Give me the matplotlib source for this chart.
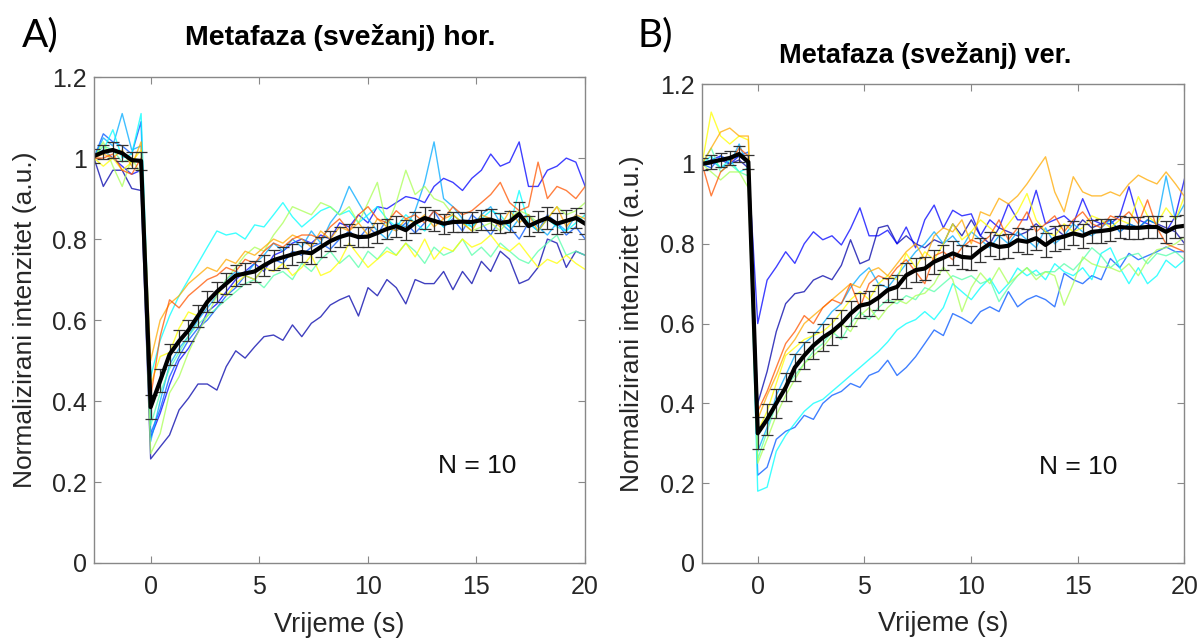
import numpy as np
import matplotlib
matplotlib.use("Agg")
import matplotlib.pyplot as plt

plt.rcParams['font.family'] = ['Liberation Sans', 'DejaVu Sans']

# vrijeme (s), zajednicko za oba panela
vrijeme = [-2.61, -2.18, -1.74, -1.31, -0.87, -0.44, 0.0, 0.44, 0.87, 1.31, 1.74, 2.18, 2.61,
           3.05, 3.48, 3.92, 4.35, 4.79, 5.22, 5.66, 6.09, 6.53, 6.96, 7.40, 7.83, 8.27, 8.70,
           9.14, 9.57, 10.01, 10.44, 10.88, 11.31, 11.75, 12.18, 12.62, 13.05, 13.49, 13.92,
           14.36, 14.79, 15.23, 15.66, 16.10, 16.53, 16.97, 17.40, 17.84, 18.27, 18.71, 19.14,
           19.58, 20.01]

# ---------------- A) horizontalno ----------------
A1 = [1.00, 0.93, 0.97, 0.97, 0.925, 0.92,
      0.257, 0.287, 0.316, 0.378, 0.407, 0.442, 0.442, 0.427, 0.485, 0.524, 0.506, 0.534, 0.559, 0.563, 0.55,
      0.588, 0.559, 0.592, 0.608, 0.637, 0.65, 0.66, 0.61, 0.68, 0.66, 0.70, 0.68, 0.64, 0.70, 0.69, 0.69,
      0.72, 0.675, 0.72, 0.69, 0.745, 0.72, 0.77, 0.75, 0.69, 0.70, 0.73, 0.80, 0.79, 0.73, 0.77, 0.76]
A2 = [1.00, 1.02, 1.00, 0.98, 0.96, 0.97,
      0.31, 0.37, 0.44, 0.50, 0.53, 0.57, 0.62, 0.64, 0.67, 0.70, 0.72, 0.74, 0.72, 0.76, 0.77,
      0.79, 0.80, 0.79, 0.81, 0.80, 0.84, 0.83, 0.86, 0.84, 0.88, 0.875, 0.89, 0.905, 0.90, 0.89,
      0.93, 0.95, 0.94, 0.92, 0.95, 0.97, 1.01, 0.98, 0.99, 1.04, 0.93, 0.93, 0.97, 0.98, 1.00, 0.99, 0.93]
A3 = [1.00, 1.06, 1.04, 1.03, 1.01, 1.09,
      0.32, 0.38, 0.46, 0.51, 0.55, 0.58, 0.60, 0.63, 0.66, 0.68, 0.71, 0.70, 0.73, 0.75, 0.74,
      0.77, 0.76, 0.78, 0.79, 0.775, 0.80, 0.82, 0.80, 0.83, 0.81, 0.85, 0.82, 0.84, 0.815, 0.84,
      0.87, 0.83, 0.85, 0.82, 0.86, 0.84, 0.81, 0.85, 0.83, 0.80, 0.84, 0.82, 0.86, 0.84, 0.81, 0.83, 0.80]
A4 = [1.00, 1.05, 1.03, 1.11, 1.02, 1.03,
      0.30, 0.40, 0.49, 0.53, 0.56, 0.60, 0.63, 0.66, 0.70, 0.72, 0.71, 0.74, 0.76, 0.79, 0.77,
      0.80, 0.78, 0.82, 0.79, 0.84, 0.87, 0.93, 0.89, 0.85, 0.82, 0.80, 0.84, 0.83, 0.87, 0.94,
      1.04, 0.90, 0.88, 0.85, 0.83, 0.86, 0.88, 0.84, 0.82, 0.85, 0.86, 0.83, 0.81, 0.84, 0.82, 0.86, 0.84]
A5 = [1.00, 1.02, 1.07, 1.00, 1.01, 1.11,
      0.46, 0.55, 0.61, 0.66, 0.70, 0.74, 0.78, 0.82, 0.81, 0.815, 0.80, 0.835, 0.83, 0.86, 0.89,
      0.855, 0.83, 0.85, 0.87, 0.88, 0.86, 0.87, 0.84, 0.86, 0.88, 0.85, 0.83, 0.86, 0.84, 0.82,
      0.85, 0.83, 0.86, 0.84, 0.83, 0.85, 0.87, 0.86, 0.83, 0.92, 0.84, 0.82, 0.85, 0.83, 0.82, 0.84, 0.86]
A6 = [1.00, 1.03, 1.02, 0.99, 1.00, 0.99,
      0.34, 0.42, 0.48, 0.52, 0.56, 0.59, 0.61, 0.63, 0.65, 0.67, 0.69, 0.70, 0.68, 0.71, 0.72,
      0.70, 0.74, 0.72, 0.75, 0.77, 0.74, 0.76, 0.73, 0.77, 0.75, 0.78, 0.76, 0.79, 0.77, 0.74,
      0.78, 0.76, 0.77, 0.80, 0.76, 0.78, 0.756, 0.79, 0.77, 0.75, 0.74, 0.77, 0.79, 0.81, 0.76, 0.77, 0.76]
A7 = [1.00, 1.04, 0.98, 0.93, 1.00, 0.96,
      0.27, 0.32, 0.42, 0.46, 0.52, 0.57, 0.61, 0.66, 0.70, 0.73, 0.76, 0.78, 0.77, 0.81, 0.84,
      0.88, 0.87, 0.86, 0.89, 0.88, 0.86, 0.88, 0.84, 0.89, 0.94, 0.83, 0.89, 0.97, 0.91, 0.93,
      0.90, 0.89, 0.86, 0.84, 0.82, 0.83, 0.84, 0.82, 0.85, 0.87, 0.86, 0.84, 0.85, 0.88, 0.86, 0.87, 0.89]
A8 = [1.00, 0.98, 1.00, 0.97, 0.99, 1.02,
      0.44, 0.51, 0.52, 0.58, 0.62, 0.61, 0.64, 0.67, 0.66, 0.69, 0.71, 0.70, 0.73, 0.72, 0.74,
      0.71, 0.73, 0.76, 0.71, 0.72, 0.744, 0.79, 0.76, 0.73, 0.75, 0.77, 0.76, 0.79, 0.756, 0.80,
      0.75, 0.78, 0.77, 0.80, 0.78, 0.79, 0.81, 0.78, 0.77, 0.79, 0.76, 0.73, 0.75, 0.74, 0.76, 0.74, 0.725]
A9 = [1.00, 1.01, 1.00, 1.02, 0.98, 1.04,
      0.50, 0.60, 0.64, 0.66, 0.69, 0.71, 0.73, 0.72, 0.75, 0.74, 0.77, 0.76, 0.78, 0.80, 0.79,
      0.81, 0.80, 0.78, 0.82, 0.80, 0.83, 0.82, 0.84, 0.81, 0.85, 0.83, 0.82, 0.85, 0.84, 0.86,
      0.83, 0.85, 0.86, 0.84, 0.82, 0.86, 0.85, 0.83, 0.87, 0.84, 0.86, 0.82, 0.85, 0.88, 0.83, 0.86, 0.85]
A10 = [1.00, 1.00, 1.01, 0.97, 0.96, 1.00,
       0.41, 0.56, 0.65, 0.63, 0.66, 0.68, 0.70, 0.71, 0.73, 0.72, 0.75, 0.74, 0.77, 0.79, 0.78,
       0.80, 0.81, 0.81, 0.80, 0.83, 0.85, 0.82, 0.86, 0.88, 0.85, 0.84, 0.87, 0.85, 0.86, 0.84,
       0.87, 0.85, 0.88, 0.86, 0.87, 0.89, 0.91, 0.94, 0.89, 0.87, 0.88, 0.99, 0.90, 0.93, 0.92, 0.90, 0.93]
A_mean = [1.005, 1.015, 1.02, 1.012, 0.995, 0.993,
          0.385, 0.45, 0.515, 0.548, 0.575, 0.61, 0.645, 0.67, 0.69, 0.71, 0.715, 0.72, 0.735, 0.748, 0.755,
          0.762, 0.768, 0.765, 0.78, 0.795, 0.805, 0.812, 0.805, 0.806, 0.815, 0.825, 0.832, 0.822, 0.84, 0.852,
          0.845, 0.838, 0.842, 0.843, 0.842, 0.847, 0.848, 0.84, 0.843, 0.862, 0.832, 0.843, 0.852, 0.838, 0.845,
          0.852, 0.838]
A_sem = [0.018, 0.018, 0.02, 0.02, 0.02, 0.022,
         0.03, 0.028, 0.027, 0.027, 0.026, 0.026, 0.026, 0.025, 0.025, 0.025, 0.026, 0.025, 0.025, 0.025, 0.026,
         0.025, 0.025, 0.026, 0.024, 0.025, 0.025, 0.026, 0.025, 0.025, 0.025, 0.024, 0.026, 0.025, 0.026, 0.027,
         0.026, 0.025, 0.025, 0.025, 0.025, 0.025, 0.026, 0.025, 0.026, 0.03, 0.025, 0.026, 0.028, 0.026, 0.027,
         0.025, 0.026]

# ---------------- B) vertikalno ----------------
B1 = [1.00, 1.00, 1.01, 1.00, 1.01, 0.99,
      0.40, 0.48, 0.58, 0.65, 0.675, 0.68, 0.709, 0.72, 0.71, 0.746, 0.81, 0.75, 0.76, 0.84, 0.846,
      0.80, 0.82, 0.80, 0.79, 0.81, 0.80, 0.85, 0.82, 0.86, 0.82, 0.80, 0.84, 0.83, 0.82, 0.83,
      0.85, 0.83, 0.84, 0.82, 0.83, 0.86, 0.84, 0.85, 0.86, 0.83, 0.85, 0.84, 0.86, 0.85, 0.84, 0.83, 0.80]
B2 = [1.00, 1.01, 1.02, 1.00, 1.02, 1.00,
      0.60, 0.709, 0.742, 0.78, 0.751, 0.80, 0.83, 0.81, 0.82, 0.797, 0.838, 0.89, 0.82, 0.82, 0.834,
      0.80, 0.842, 0.79, 0.86, 0.897, 0.84, 0.884, 0.87, 0.875, 0.82, 0.86, 0.84, 0.90, 0.86, 0.86,
      0.934, 0.85, 0.86, 0.87, 0.85, 0.913, 0.86, 0.85, 0.85, 0.87, 0.943, 0.86, 0.85, 0.84, 0.83, 0.87, 0.964]
B3 = [1.00, 0.99, 1.02, 1.01, 1.02, 1.03,
      0.22, 0.24, 0.31, 0.33, 0.34, 0.37, 0.36, 0.40, 0.42, 0.43, 0.45, 0.44, 0.47, 0.48, 0.508,
      0.47, 0.49, 0.517, 0.55, 0.584, 0.57, 0.625, 0.614, 0.60, 0.63, 0.642, 0.63, 0.68, 0.642, 0.66,
      0.67, 0.66, 0.642, 0.726, 0.71, 0.70, 0.72, 0.71, 0.763, 0.74, 0.776, 0.76, 0.77, 0.78, 0.792, 0.78, 0.78]
B4 = [1.00, 1.01, 0.99, 1.00, 1.05, 0.99,
      0.28, 0.34, 0.42, 0.47, 0.52, 0.55, 0.57, 0.60, 0.63, 0.65, 0.69, 0.72, 0.74, 0.70, 0.69,
      0.72, 0.75, 0.78, 0.80, 0.83, 0.80, 0.82, 0.79, 0.83, 0.81, 0.79, 0.82, 0.80, 0.83, 0.81,
      0.79, 0.84, 0.80, 0.82, 0.85, 0.83, 0.82, 0.84, 0.86, 0.83, 0.85, 0.84, 0.86, 0.85, 0.97, 0.86, 0.90]
B5 = [1.00, 1.02, 0.99, 1.01, 0.98, 0.99,
      0.18, 0.19, 0.28, 0.32, 0.35, 0.38, 0.40, 0.41, 0.43, 0.45, 0.47, 0.49, 0.51, 0.53, 0.554,
      0.584, 0.60, 0.61, 0.63, 0.61, 0.64, 0.70, 0.68, 0.66, 0.69, 0.714, 0.675, 0.70, 0.739, 0.72,
      0.734, 0.71, 0.75, 0.73, 0.72, 0.74, 0.71, 0.776, 0.79, 0.74, 0.70, 0.74, 0.70, 0.72, 0.759, 0.74, 0.76]
B6 = [1.00, 1.04, 0.98, 1.00, 0.98, 0.97,
      0.26, 0.33, 0.40, 0.44, 0.47, 0.50, 0.53, 0.55, 0.58, 0.56, 0.60, 0.63, 0.61, 0.64, 0.66,
      0.65, 0.67, 0.66, 0.69, 0.68, 0.70, 0.72, 0.71, 0.72, 0.70, 0.71, 0.655, 0.69, 0.72, 0.74,
      0.72, 0.73, 0.73, 0.75, 0.734, 0.76, 0.79, 0.77, 0.74, 0.76, 0.77, 0.776, 0.75, 0.776, 0.77, 0.78, 0.76]
B7 = [1.00, 0.98, 0.96, 0.98, 0.98, 0.94,
      0.25, 0.31, 0.37, 0.42, 0.46, 0.50, 0.52, 0.54, 0.57, 0.60, 0.58, 0.62, 0.64, 0.61, 0.64,
      0.66, 0.65, 0.67, 0.676, 0.70, 0.742, 0.71, 0.63, 0.69, 0.727, 0.70, 0.74, 0.70, 0.72, 0.74,
      0.71, 0.73, 0.72, 0.646, 0.70, 0.767, 0.75, 0.742, 0.74, 0.73, 0.75, 0.72, 0.76, 0.785, 0.79, 0.80, 0.817]
B8 = [1.00, 1.13, 1.07, 1.05, 1.07, 1.06,
      0.33, 0.38, 0.45, 0.52, 0.54, 0.56, 0.57, 0.58, 0.60, 0.63, 0.66, 0.68, 0.66, 0.70, 0.72,
      0.71, 0.776, 0.74, 0.78, 0.76, 0.80, 0.85, 0.81, 0.83, 0.86, 0.84, 0.82, 0.85, 0.88, 0.926,
      0.86, 0.83, 0.82, 0.85, 0.83, 0.84, 0.87, 0.86, 0.84, 0.86, 0.85, 0.918, 0.87, 0.85, 0.89, 0.86, 0.92]
B9 = [1.00, 1.04, 1.08, 1.09, 1.07, 1.07,
      0.36, 0.42, 0.47, 0.53, 0.56, 0.60, 0.62, 0.64, 0.66, 0.68, 0.70, 0.69, 0.73, 0.74, 0.72,
      0.75, 0.78, 0.80, 0.76, 0.82, 0.84, 0.83, 0.86, 0.80, 0.88, 0.87, 0.914, 0.90, 0.92, 0.95,
      0.984, 1.018, 0.93, 0.88, 0.968, 0.93, 0.92, 0.92, 0.93, 0.92, 0.95, 0.972, 0.96, 0.95, 0.98, 0.95, 0.918]
B10 = [1.00, 0.92, 0.98, 1.00, 1.04, 1.02,
       0.38, 0.43, 0.49, 0.55, 0.58, 0.62, 0.60, 0.64, 0.66, 0.65, 0.70, 0.64, 0.70, 0.72, 0.71,
       0.74, 0.76, 0.73, 0.70, 0.77, 0.78, 0.76, 0.79, 0.81, 0.80, 0.82, 0.86, 0.81, 0.84, 0.88,
       0.83, 0.85, 0.87, 0.83, 0.86, 0.88, 0.85, 0.84, 0.87, 0.86, 0.88, 0.85, 0.91, 0.84, 0.80, 0.79, 0.78]
B_mean = [1.0, 1.005, 1.01, 1.015, 1.025, 1.005,
          0.325, 0.36, 0.40, 0.44, 0.49, 0.52, 0.545, 0.565, 0.58, 0.60, 0.625, 0.645, 0.65, 0.665, 0.684,
          0.692, 0.721, 0.734, 0.738, 0.755, 0.765, 0.776, 0.767, 0.765, 0.784, 0.80, 0.792, 0.795, 0.809, 0.805,
          0.814, 0.797, 0.813, 0.818, 0.826, 0.82, 0.83, 0.832, 0.835, 0.842, 0.84, 0.84, 0.842, 0.842, 0.83,
          0.842, 0.845]
B_sem = [0.015, 0.018, 0.018, 0.018, 0.02, 0.018,
         0.04, 0.038, 0.036, 0.035, 0.035, 0.034, 0.034, 0.033, 0.033, 0.033, 0.032, 0.032, 0.032, 0.031, 0.031,
         0.03, 0.031, 0.03, 0.03, 0.03, 0.031, 0.03, 0.03, 0.03, 0.03, 0.03, 0.03, 0.03, 0.03, 0.031,
         0.03, 0.03, 0.031, 0.03, 0.03, 0.03, 0.029, 0.029, 0.028, 0.028, 0.028, 0.028, 0.027, 0.027, 0.028,
         0.027, 0.028]

# jet(10) iz MATLAB-a
boje = [(0, 0, 0.6667), (0, 0, 1), (0, 0.3333, 1), (0, 0.6667, 1), (0, 1, 1),
        (0.3333, 1, 0.6667), (0.6667, 1, 0.3333), (1, 1, 0), (1, 0.6667, 0), (1, 0.3333, 0)]

fig = plt.figure(figsize=(11.97, 6.41), dpi=100)
axA = fig.add_axes([0.0785, 0.1217, 0.4102, 0.758])
axB = fig.add_axes([0.5865, 0.1217, 0.4030, 0.747])

panels = [
    (axA, [A1, A2, A3, A4, A5, A6, A7, A8, A9, A10], A_mean, A_sem,
     'Metafaza (svežanj) hor.', 0.284, 0.941, 20.5, -0.141),
    (axB, [B1, B2, B3, B4, B5, B6, B7, B8, B9, B10], B_mean, B_sem,
     'Metafaza (svežanj) ver.', 0.773, 0.914, 19.5, -0.145),
]

for ax, krivulje, sred, sem, naslov, tx, ty, tfs, ylx in panels:
    for i, k in enumerate(krivulje):
        ax.plot(vrijeme, k, color=boje[i], lw=1.0, alpha=0.75)
    ax.errorbar(vrijeme, sred, yerr=sem, fmt='none', ecolor='#333333', elinewidth=0.9,
                capsize=4, capthick=0.9)
    ax.plot(vrijeme, sred, color='black', lw=3)
    ax.set_xlim(-2.61, 20)
    ax.set_ylim(0, 1.2)
    ax.set_xticks([0, 5, 10, 15, 20])
    ax.set_yticks([0, 0.2, 0.4, 0.6, 0.8, 1.0, 1.2])
    ax.set_yticklabels(['0', '0.2', '0.4', '0.6', '0.8', '1', '1.2'])
    ax.tick_params(direction='in', top=True, right=True, length=5, width=0.8,
                   colors='#888888', labelcolor='#262626', labelsize=18)
    ax.tick_params(axis='x', pad=9)
    ax.tick_params(axis='y', pad=5)
    for s in ax.spines.values():
        s.set_color('#888888')
        s.set_linewidth(1.0)
    ax.set_xlabel('Vrijeme (s)', fontsize=19.5, color='#262626', va='center')
    ax.xaxis.set_label_coords(0.5, -0.128)
    ax.set_ylabel('Normalizirani intenzitet (a.u.)', fontsize=19, color='#262626', va='center')
    ax.yaxis.set_label_coords(ylx, 0.5)
    fig.text(tx, ty, naslov, fontsize=tfs, fontweight='bold', ha='center', va='center')
    ax.text(0.78, 0.2, 'N = 10', transform=ax.transAxes, fontsize=19, ha='center', va='center',
            color='#111111')

fig.text(0.034, 0.945, 'A)', fontsize=28, ha='center', va='center', family=['Lato', 'DejaVu Sans'])
fig.text(0.547, 0.945, 'B)', fontsize=28, ha='center', va='center', family=['Lato', 'DejaVu Sans'])

fig.savefig('out.png', dpi=100)
